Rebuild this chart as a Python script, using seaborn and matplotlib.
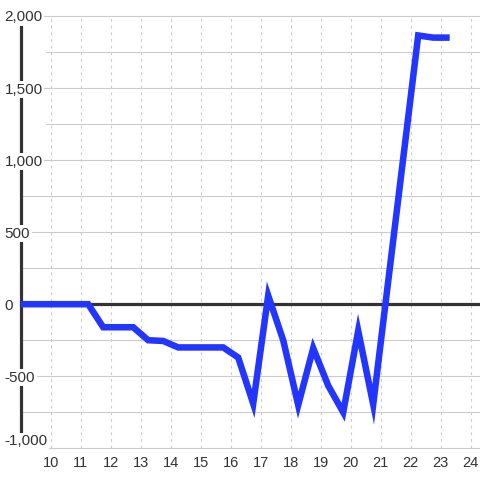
import matplotlib
matplotlib.use("Agg")
import matplotlib.pyplot as plt
import seaborn as sns
import pandas as pd

# ---- data ----
hours = [9.0, 11.25, 11.75, 12.75, 13.25, 13.75, 14.25, 15.75, 16.25, 16.75,
         17.25, 17.75, 18.25, 18.75, 19.25, 19.75, 20.25, 20.75, 22.25, 22.75, 23.3]
values = [0, 0, -160, -160, -250, -255, -300, -300, -370, -690,
          60, -250, -700, -305, -565, -750, -185, -695, 1865, 1850, 1850]
x_ticks = list(range(10, 25))
y_ticks = [-1000, -500, 0, 500, 1000, 1500, 2000]
y_grid = list(range(-1000, 2001, 250))

df = pd.DataFrame({"hour": hours, "value": values})

sns.set_theme(style="white")
plt.rcParams['font.family'] = ['Liberation Sans', 'DejaVu Sans']

fig = plt.figure(figsize=(4.8, 4.8), dpi=100)
ax = fig.add_axes([0, 0, 1, 1])
XMIN, XMAX = 8.31, 24.31
YMIN, YMAX = -1220, 2111
ax.set_xlim(XMIN, XMAX)
ax.set_ylim(YMIN, YMAX)
for s in ax.spines.values():
    s.set_visible(False)
ax.set_facecolor("white")

grid_c = "#cccccc"
# horizontal solid grid
short = [g for g in y_grid if g in (1250, 1750)]
full = [g for g in y_grid if g not in (1250, 1750)]
ax.hlines(full, 9.0, XMAX, colors=grid_c, linewidth=0.8, zorder=1)
ax.hlines(short, 9.83, XMAX, colors=grid_c, linewidth=0.8, zorder=1)
# vertical dashed grid
ax.vlines(x_ticks, -1000, 2000, colors=grid_c, linewidth=0.8,
          linestyles=(0, (2.5, 3.5)), zorder=1)
# y axis line and zero line
ax.vlines([9.0], -1000, 2000, colors="#333333", linewidth=2.3, zorder=1.5)
ax.hlines([0], 9.0, XMAX, colors="#333333", linewidth=2.3, zorder=1.6)

sns.lineplot(data=df, x="hour", y="value", ax=ax, color="#2236ff",
             linewidth=4.7, zorder=3, solid_joinstyle="miter",
             solid_capstyle="butt")

ax.set_xlabel("")
ax.set_ylabel("")
ax.set_axisbelow(False)

ax.set_xticks(x_ticks)
ax.set_xticklabels([str(t) for t in x_ticks])
ax.set_yticks(y_ticks)
ax.set_yticklabels([f"{t:,}" for t in y_ticks])
ax.tick_params(axis="x", direction="in", length=0, pad=-17.6,
               labelsize=10.5, labelcolor="#333333")
ax.tick_params(axis="y", direction="in", length=0, pad=-3.2,
               labelsize=11, labelcolor="#333333")
ylabels = ax.get_yticklabels()
for lab in ylabels:
    lab.set_horizontalalignment("left")
    lab.set_bbox(dict(facecolor="white", edgecolor="none", pad=1.2))
ylabels[0].set_verticalalignment("bottom")
for lab in ax.get_xticklabels():
    lab.set_bbox(dict(facecolor="white", edgecolor="none", pad=1.0))

fig.savefig("out.png", dpi=100)
